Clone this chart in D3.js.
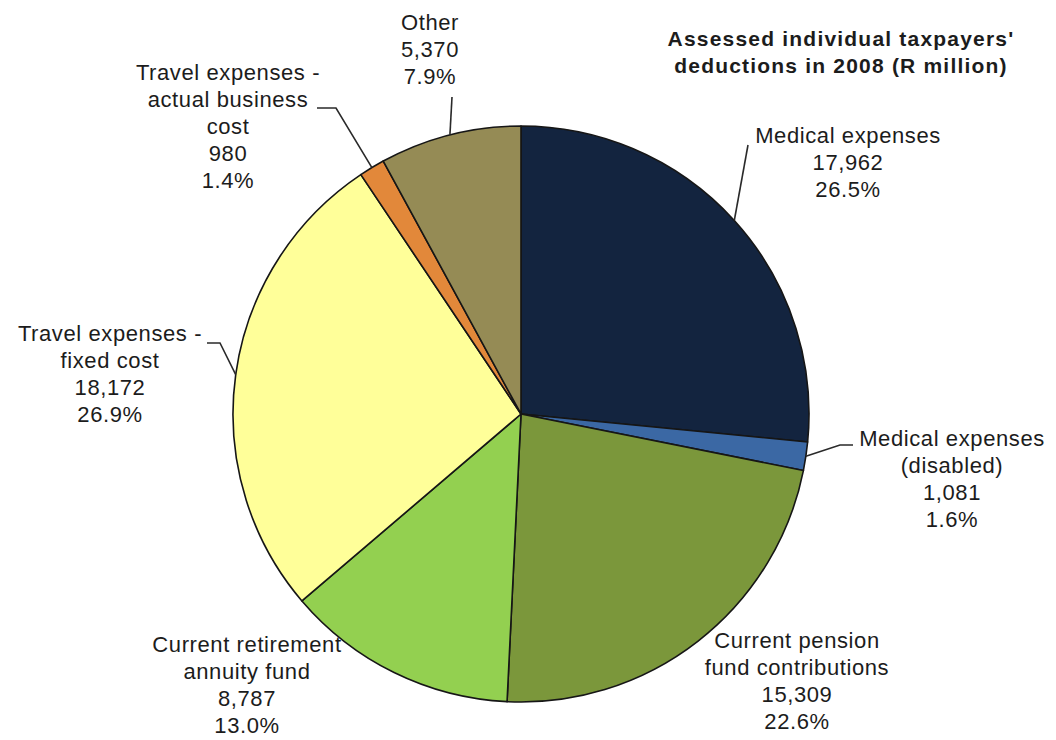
<!DOCTYPE html>
<html>
<head>
<meta charset="utf-8">
<script src="https://cdn.jsdelivr.net/npm/d3@7"></script>
<style>
  body { margin: 0; background: #ffffff; }
  svg { display: block; }
  text { font-family: "Liberation Sans", Arial, sans-serif; fill: #1c1c1c; }
</style>
</head>
<body>
<svg id="chart" width="1056" height="740"></svg>
<script>
// Deduction categories, in clockwise order from 12 o'clock
const categories = [
  "Medical expenses",
  "Medical expenses (disabled)",
  "Current pension fund contributions",
  "Current retirement annuity fund",
  "Travel expenses - fixed cost",
  "Travel expenses - actual business cost",
  "Other"
];
// Amounts in R million
const values = [17962, 1081, 15309, 8787, 18172, 980, 5370];
// Wrapped label text for each category
const labelLines = [
  ["Medical expenses"],
  ["Medical expenses", "(disabled)"],
  ["Current pension", "fund contributions"],
  ["Current retirement", "annuity fund"],
  ["Travel expenses -", "fixed cost"],
  ["Travel expenses -", "actual business", "cost"],
  ["Other"]
];
const titleLines = ["Assessed individual taxpayers'", "deductions in 2008 (R million)"];

const sliceColors = ["#13243f", "#3b68a4", "#7b973b", "#93d050", "#ffff99", "#e2883a", "#958b55"];

// Label layout: centre x, first baseline y, optional leader elbow
const labelLayout = [
  { x: 848, y: 143, leader: [[748, 145]] },
  { x: 952, y: 446, leader: [[853, 445], [840, 445]] },
  { x: 797, y: 648 },
  { x: 247, y: 652 },
  { x: 110, y: 341, leader: [[207, 343], [220, 343]] },
  { x: 228, y: 80, leader: [[317, 108], [336, 108]] },
  { x: 430, y: 30, leader: [[452, 97]] }
];

const cx = 521, cy = 414, radius = 288, lineH = 27;
const svg = d3.select("#chart");

const data = categories.map((c, i) => ({ name: c, value: values[i], i }));
const total = d3.sum(values);
const fmtNum = d3.format(",");
const fmtPct = d3.format(".1%");

const pie = d3.pie().sort(null).value(d => d.value);
const arcs = pie(data);
const arc = d3.arc().innerRadius(0).outerRadius(radius);
const edgeArc = d3.arc().innerRadius(radius).outerRadius(radius);

const g = svg.append("g").attr("transform", `translate(${cx},${cy})`);
g.selectAll("path.slice")
  .data(arcs)
  .join("path")
  .attr("class", "slice")
  .attr("d", arc)
  .attr("fill", d => sliceColors[d.data.i])
  .attr("stroke", "#161616")
  .attr("stroke-width", 1.6)
  .attr("stroke-linejoin", "round");

// Leader lines from the label to the slice's outer edge
const line = d3.line();
arcs.forEach(a => {
  const lay = labelLayout[a.data.i];
  if (!lay.leader) return;
  const [ex, ey] = edgeArc.centroid(a);
  const pts = lay.leader.concat([[cx + ex, cy + ey]]);
  svg.append("path")
    .attr("d", line(pts))
    .attr("fill", "none")
    .attr("stroke", "#2a2a2a")
    .attr("stroke-width", 1.6);
});

// Category labels: name, amount, share
arcs.forEach(a => {
  const i = a.data.i;
  const lay = labelLayout[i];
  const lines = labelLines[i].concat([fmtNum(values[i]), fmtPct(values[i] / total)]);
  const t = svg.append("text")
    .attr("text-anchor", "middle")
    .attr("font-size", 22)
    .attr("letter-spacing", 0.6);
  lines.forEach((s, k) => {
    t.append("tspan").attr("x", lay.x).attr("y", lay.y + k * lineH).text(s);
  });
});

// Chart title
const title = svg.append("text")
  .attr("text-anchor", "middle")
  .attr("font-size", 21)
  .attr("font-weight", "bold")
  .attr("letter-spacing", 1.2);
titleLines.forEach((s, k) => {
  title.append("tspan").attr("x", 841).attr("y", 46 + k * 27).text(s);
});
</script>
</body>
</html>
